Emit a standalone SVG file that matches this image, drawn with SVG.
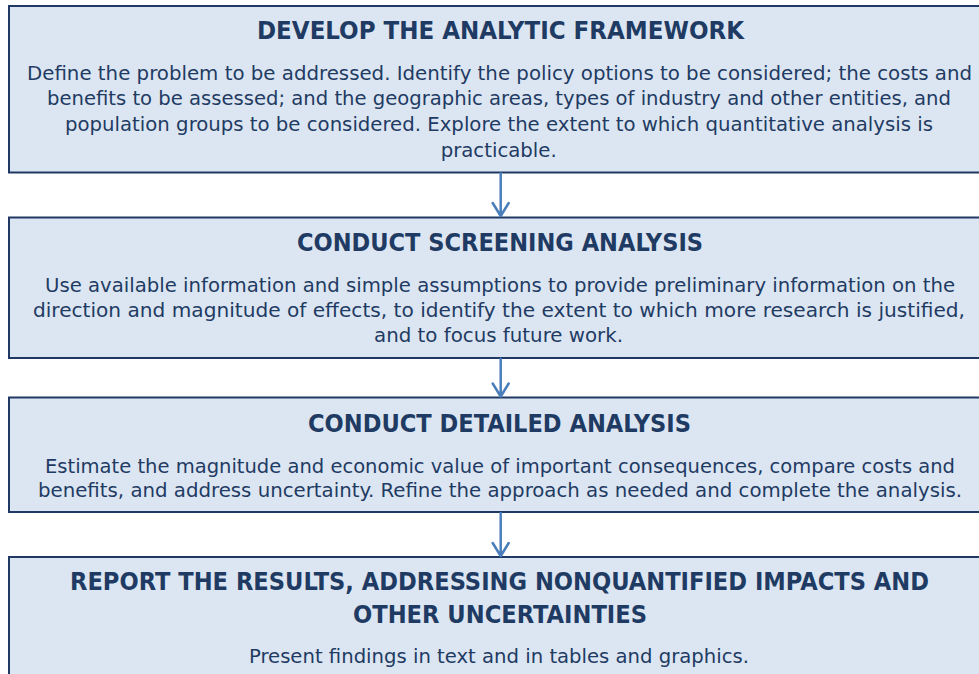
<svg xmlns="http://www.w3.org/2000/svg" width="979" height="674" viewBox="0 0 979 674">
  <style>
    .box { fill: #dce6f2; stroke: #1f3864; stroke-width: 2; }
    .title { font-family: "DejaVu Sans Condensed", "DejaVu Sans", sans-serif; font-weight: bold; font-size: 25px; fill: #1f3b63; text-anchor: middle; }
    .body { font-family: "DejaVu Sans Condensed", "DejaVu Sans", sans-serif; font-size: 19.5px; fill: #1f3b63; text-anchor: middle; }
    .conn { stroke: #4a7ebb; stroke-width: 2.5; fill: none; stroke-linecap: round; stroke-linejoin: round; }
  </style>
  <rect width="979" height="674" fill="#ffffff"/>

  <g id="node-develop">
    <rect class="box" x="9" y="6" width="990" height="166.5"/>
    <text class="title" x="500.5" y="38.5" textLength="487" lengthAdjust="spacingAndGlyphs">DEVELOP THE ANALYTIC FRAMEWORK</text>
    <text class="body" x="499.5" y="79.5" textLength="945" lengthAdjust="spacingAndGlyphs">Define the problem to be addressed. Identify the policy options to be considered; the costs and</text>
    <text class="body" x="499" y="105.3" textLength="904" lengthAdjust="spacingAndGlyphs">benefits to be assessed; and the geographic areas, types of industry and other entities, and</text>
    <text class="body" x="499" y="131.1" textLength="868" lengthAdjust="spacingAndGlyphs">population groups to be considered. Explore the extent to which quantitative analysis is</text>
    <text class="body" x="498.7" y="156.9" textLength="116" lengthAdjust="spacingAndGlyphs">practicable.</text>
  </g>

  <g id="node-screening">
    <rect class="box" x="9" y="217.5" width="990" height="140.5"/>
    <text class="title" x="500" y="251" textLength="406" lengthAdjust="spacingAndGlyphs">CONDUCT SCREENING ANALYSIS</text>
    <text class="body" x="500" y="291.7" textLength="910" lengthAdjust="spacingAndGlyphs">Use available information and simple assumptions to provide preliminary information on the</text>
    <text class="body" x="499" y="316.7" textLength="932" lengthAdjust="spacingAndGlyphs">direction and magnitude of effects, to identify the extent to which more research is justified,</text>
    <text class="body" x="498.5" y="341.7" textLength="249" lengthAdjust="spacingAndGlyphs">and to focus future work.</text>
  </g>

  <g id="node-detailed">
    <rect class="box" x="9" y="397.5" width="990" height="114.5"/>
    <text class="title" x="499.5" y="431.5" textLength="383" lengthAdjust="spacingAndGlyphs">CONDUCT DETAILED ANALYSIS</text>
    <text class="body" x="500" y="472.7" textLength="910" lengthAdjust="spacingAndGlyphs">Estimate the magnitude and economic value of important consequences, compare costs and</text>
    <text class="body" x="500" y="497.3" textLength="924" lengthAdjust="spacingAndGlyphs">benefits, and address uncertainty. Refine the approach as needed and complete the analysis.</text>
  </g>

  <g id="node-report">
    <rect class="box" x="9" y="557" width="990" height="140"/>
    <text class="title" x="499.5" y="589.5" textLength="859" lengthAdjust="spacingAndGlyphs">REPORT THE RESULTS, ADDRESSING NONQUANTIFIED IMPACTS AND</text>
    <text class="title" x="500" y="623.3" textLength="294" lengthAdjust="spacingAndGlyphs">OTHER UNCERTAINTIES</text>
    <text class="body" x="499" y="663.3" textLength="500" lengthAdjust="spacingAndGlyphs">Present findings in text and in tables and graphics.</text>
  </g>

  <g id="connectors">
    <path class="conn" d="M500.7 173.5 V216 M492.7 203 L500.7 216 L508.7 203"/>
    <path class="conn" d="M500.7 359 V396.5 M492.7 383.5 L500.7 396.5 L508.7 383.5"/>
    <path class="conn" d="M500.7 513 V556 M492.7 543 L500.7 556 L508.7 543"/>
  </g>
</svg>
